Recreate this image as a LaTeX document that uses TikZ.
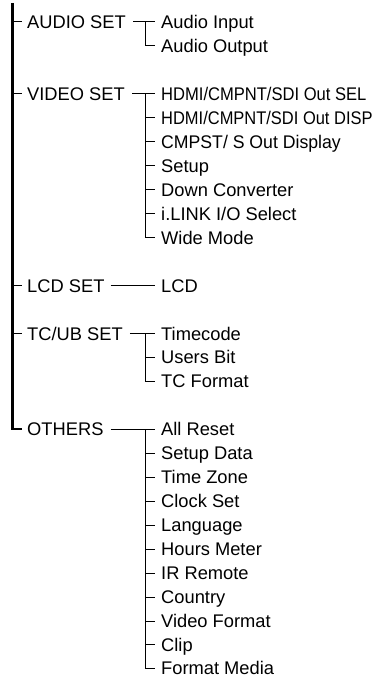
\documentclass[tikz,border=0pt]{standalone}
\usepackage{graphicx}
\usepackage{fontspec}
\setmainfont{Liberation Sans}
\begin{document}
\begin{tikzpicture}[x=1pt,y=-1pt,
  lbl/.style={inner sep=0pt,anchor=west,text height=13.1pt,text depth=0pt,font=\fontsize{18.3}{22}\selectfont},
  trunk/.style={line width=2.3pt},
  branch/.style={line width=1pt}]
\useasboundingbox (0,0) rectangle (378,677);
% parents
\node[lbl] (audio) at (27,22) {AUDIO SET};
\node[lbl] (video) at (27,93.88) {VIDEO SET};
\node[lbl] (lcdset) at (27,285.56) {LCD SET};
\node[lbl] (tcub) at (27,333.48) {TC/UB SET};
\node[lbl] (others) at (27,429.32) {OTHERS};
% audio
\node[lbl] (a1) at (161,22) {Audio Input};
\node[lbl] (a2) at (161,45.96) {Audio Output};
% video
\node[lbl] (v1) at (161,93.88) {\scalebox{0.905}[1]{HDMI/CMPNT/SDI Out SEL}};
\node[lbl] (v2) at (161,117.84) {\scalebox{0.9}[1]{HDMI/CMPNT/SDI Out DISP}};
\node[lbl] (v3) at (161,141.8) {\scalebox{0.965}[1]{CMPST/ S Out Display}};
\node[lbl] (v4) at (161,165.76) {Setup};
\node[lbl] (v5) at (161,189.72) {Down Converter};
\node[lbl] (v6) at (161,213.68) {i.LINK I/O Select};
\node[lbl] (v7) at (161,237.64) {Wide Mode};
% lcd
\node[lbl] (l1) at (161,285.56) {LCD};
% tc
\node[lbl] (t1) at (161,333.48) {Timecode};
\node[lbl] (t2) at (161,357.44) {Users Bit};
\node[lbl] (t3) at (161,381.4) {TC Format};
% others
\node[lbl] (o1) at (161,429.32) {All Reset};
\node[lbl] (o2) at (161,453.28) {Setup Data};
\node[lbl] (o3) at (161,477.24) {Time Zone};
\node[lbl] (o4) at (161,501.2) {Clock Set};
\node[lbl] (o5) at (161,525.16) {Language};
\node[lbl] (o6) at (161,549.12) {Hours Meter};
\node[lbl] (o7) at (161,573.08) {IR Remote};
\node[lbl] (o8) at (161,597.04) {Country};
\node[lbl] (o9) at (161,621.0) {Video Format};
\node[lbl] (o10) at (161,644.96) {Clip};
\node[lbl] (o11) at (161,668.4) {Format Media};
% trunk
\coordinate (top) at (12.5,3);
\draw[trunk] (top) |- ([xshift=-5pt]others.west);
\foreach \p in {audio,video,lcdset,tcub}
  \draw[branch] (top |- \p.west) -- ([xshift=-5pt]\p.west);
% audio branch
\draw[branch] ([xshift=7pt]audio.east) -- ([xshift=-6pt]a1.west);
\draw[branch] ([xshift=-15.5pt]a1.west) |- ([xshift=-6pt]a2.west);
% video branch
\draw[branch] ([xshift=7pt]video.east) -- ([xshift=-6pt]v1.west);
\draw[branch] ([xshift=-15.5pt]v1.west) |- ([xshift=-6pt]v7.west);
\foreach \c in {v2,v3,v4,v5,v6}
  \draw[branch] ([xshift=-15.5pt]\c.west) -- ([xshift=-6pt]\c.west);
% lcd branch
\draw[branch] ([xshift=6pt]lcdset.east) -- ([xshift=-6pt]l1.west);
% tc branch
\draw[branch] ([xshift=7pt]tcub.east) -- ([xshift=-6pt]t1.west);
\draw[branch] ([xshift=-15.5pt]t1.west) |- ([xshift=-6pt]t3.west);
\draw[branch] ([xshift=-15.5pt]t2.west) -- ([xshift=-6pt]t2.west);
% others branch
\draw[branch] ([xshift=7pt]others.east) -- ([xshift=-6pt]o1.west);
\draw[branch] ([xshift=-16pt]o1.west) |- ([xshift=-6pt]o11.west);
\foreach \c in {o2,o3,o4,o5,o6,o7,o8,o9,o10}
  \draw[branch] ([xshift=-16pt]\c.west) -- ([xshift=-6pt]\c.west);
\end{tikzpicture}
\end{document}
